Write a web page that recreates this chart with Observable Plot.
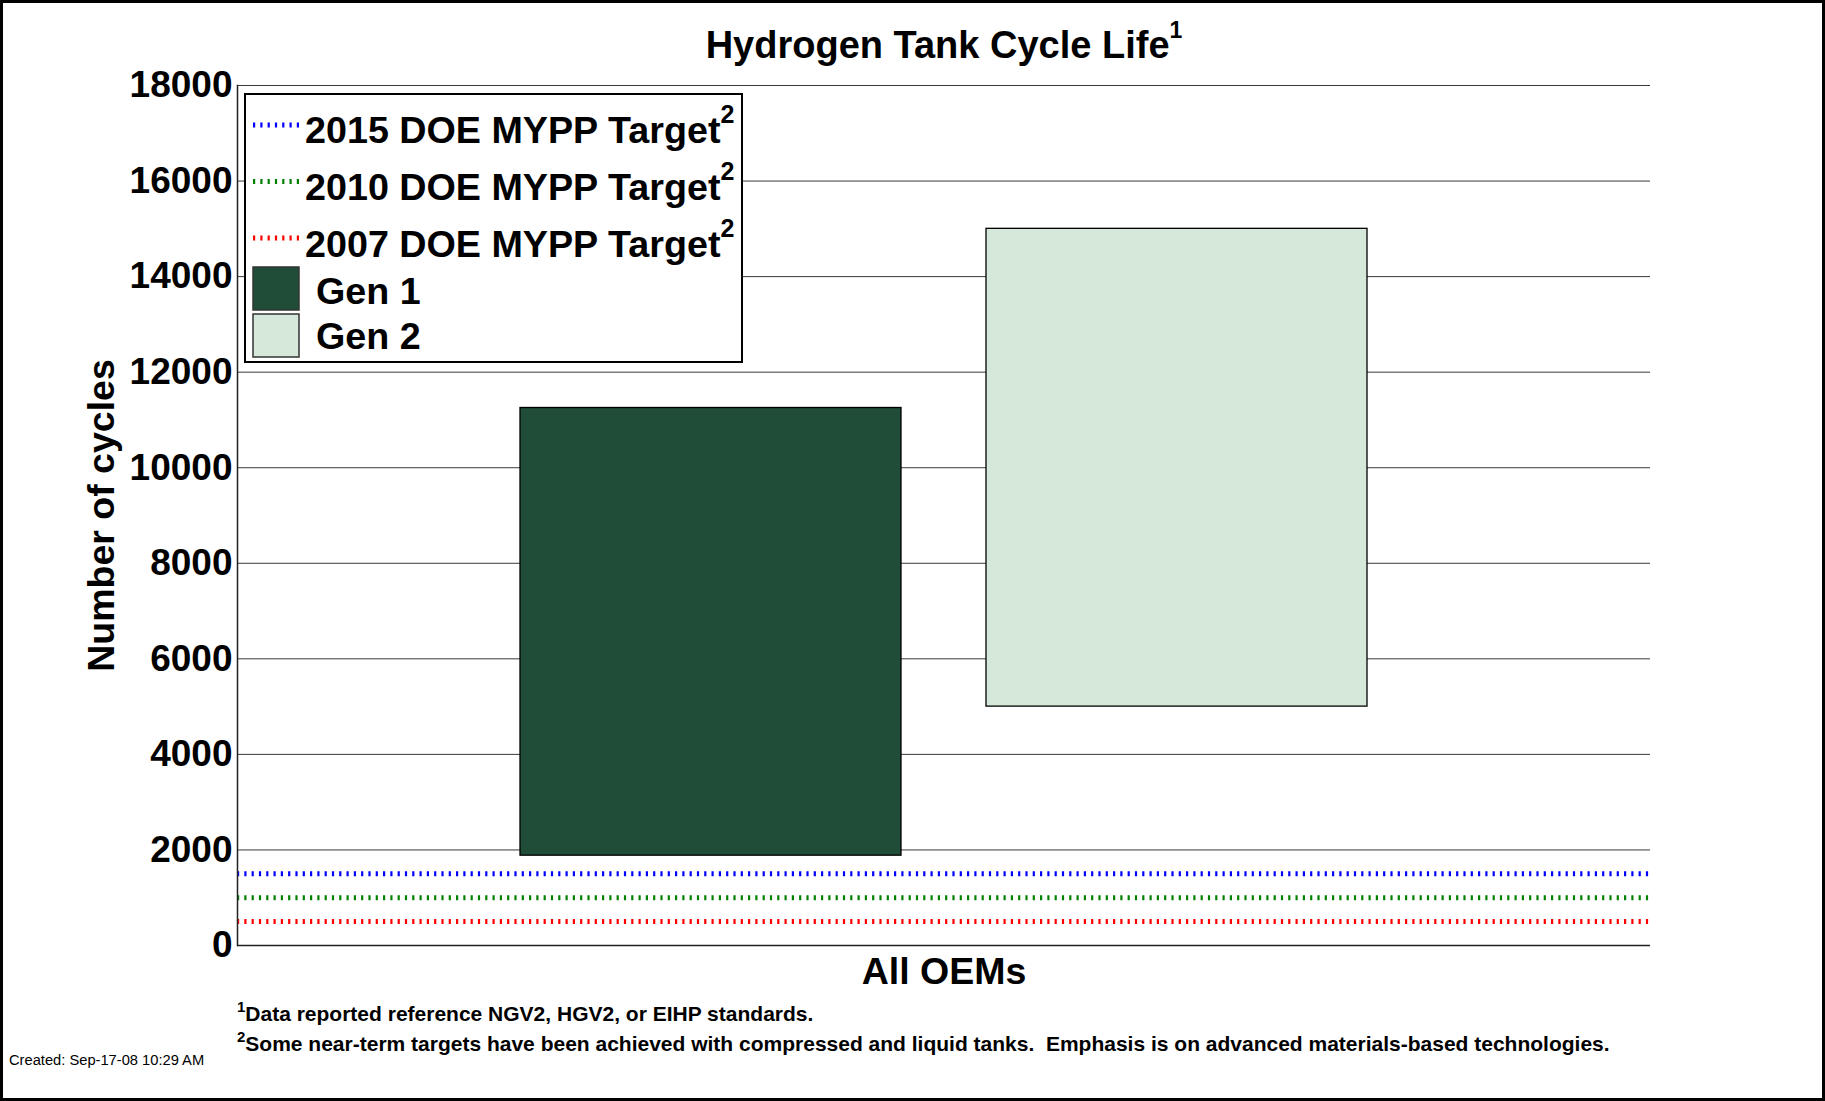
<!DOCTYPE html>
<html><head><meta charset="utf-8">
<script src="https://cdn.jsdelivr.net/npm/d3@7"></script>
<script src="https://cdn.jsdelivr.net/npm/@observablehq/plot@0.6"></script>
<style>
html,body{margin:0;padding:0;background:#fff;}
#page{position:relative;width:1825px;height:1101px;overflow:hidden;font-family:"Liberation Sans",Arial,sans-serif;}
#page > svg{position:absolute;left:0;top:0;}
#frame{position:absolute;left:0;top:0;right:0;bottom:0;border:3px solid #000;box-sizing:border-box;pointer-events:none;}
</style></head><body><div id="page"></div>
<script>
// ---- data ----
const generations = ["Gen 1", "Gen 2"];
const lowCycles = [1880, 5000];
const highCycles = [11250, 15000];
const targetLabels = ["2015 DOE MYPP Target", "2010 DOE MYPP Target", "2007 DOE MYPP Target"];
const targetCycles = [1500, 1000, 500];
const yTicks = [0, 2000, 4000, 6000, 8000, 10000, 12000, 14000, 16000, 18000];
const categoryLabel = "All OEMs";
const yLabel = "Number of cycles";
const titleText = "Hydrogen Tank Cycle Life";
const footnotes = [
  "Data reported reference NGV2, HGV2, or EIHP standards.",
  "Some near-term targets have been achieved with compressed and liquid tanks.  Emphasis is on advanced materials-based technologies."
];
const createdText = "Created: Sep-17-08 10:29 AM";

// ---- styles ----
const seriesColors = ["#0000ff", "#008000", "#ff0000", "#1f4d37", "#d6e8da"];
const FONT = '"Liberation Sans", Arial, sans-serif';

const bars = generations.map((g, i) => ({gen: g, low: lowCycles[i], high: highCycles[i]}));
const targets = targetLabels.map((t, i) => ({label: t, cycles: targetCycles[i]}));

const chart = Plot.plot({
  width: 1825, height: 1101,
  marginLeft: 237, marginRight: 175, marginTop: 85, marginBottom: 156,
  style: {background: "transparent", fontFamily: FONT, color: "#000"},
  x: {domain: generations, paddingInner: 0.182, paddingOuter: 0.604, axis: null},
  y: {domain: [0, 18000], axis: null},
  color: {domain: [...targetLabels, ...generations], range: seriesColors},
  marks: [
    Plot.gridY(yTicks, {stroke: "#3a3a3a", strokeOpacity: 1, strokeWidth: 1}),
    Plot.ruleY(targets, {y: "cycles", stroke: "label", strokeWidth: 5, strokeDasharray: "2.2,5.1"}),
    Plot.barY(bars, {x: "gen", y1: "low", y2: "high", fill: "gen", stroke: "#000", strokeWidth: 1.3}),
    Plot.axisY(yTicks, {tickSize: 0, tickPadding: 5, fontSize: 37, fontWeight: "bold",
      tickFormat: d => String(d), label: null}),
    Plot.axisY({ticks: [], tickSize: 0, fontSize: 37.5, fontWeight: "bold",
      label: yLabel, labelArrow: "none", labelAnchor: "center", labelOffset: 150}),
    Plot.axisX({tickSize: 0, tickFormat: () => "", fontSize: 37.5, fontWeight: "bold",
      label: categoryLabel, labelArrow: "none", labelAnchor: "center", labelOffset: 38}),
    Plot.frame({anchor: "left", stroke: "#222", strokeWidth: 1.5}),
    Plot.ruleY([0], {stroke: "#222", strokeWidth: 1.5})
  ]
});
const page = document.getElementById("page");
page.appendChild(chart);

// ---- annotations: title, legend, footnotes ----
const ann = d3.select(page).append("svg")
  .attr("width", 1825).attr("height", 1101)
  .style("font-family", FONT).style("pointer-events", "none");

const title = ann.append("text").attr("x", 944).attr("y", 58)
  .attr("text-anchor", "middle").attr("font-size", 38).attr("font-weight", "bold");
title.append("tspan").text(titleText);
title.append("tspan").attr("font-size", 23).attr("dy", -20).text("1");

// legend
const lg = ann.append("g").attr("transform", "translate(245,94)");
lg.append("rect").attr("width", 497).attr("height", 268)
  .attr("fill", "#fff").attr("stroke", "#000").attr("stroke-width", 2);
targets.forEach((t, i) => {
  const ly = 31 + i * 56.5;
  lg.append("line").attr("x1", 8).attr("x2", 54).attr("y1", ly).attr("y2", ly)
    .attr("stroke", seriesColors[i]).attr("stroke-width", 5).attr("stroke-dasharray", "2.2,5.1");
  const tx = lg.append("text").attr("x", 60).attr("y", 49 + i * 57)
    .attr("font-size", 37.7).attr("font-weight", "bold");
  tx.append("tspan").text(t.label);
  tx.append("tspan").attr("font-size", 25).attr("dy", -20).text("2");
});
bars.forEach((b, i) => {
  const sy = [173, 220][i];
  lg.append("rect").attr("x", 8).attr("y", sy).attr("width", 46).attr("height", 43)
    .attr("fill", seriesColors[3 + i]).attr("stroke", "#333").attr("stroke-width", 1.5);
  lg.append("text").attr("x", 71).attr("y", [210, 255][i])
    .attr("font-size", 37.7).attr("font-weight", "bold").text(b.gen);
});

// footnotes
footnotes.forEach((f, i) => {
  const tx = ann.append("text").attr("x", 237).attr("y", [1021, 1051][i])
    .attr("font-weight", "bold").style("white-space", "pre");
  tx.append("tspan").attr("font-size", 15).attr("dy", -9).text(String(i + 1));
  tx.append("tspan").attr("font-size", 21).attr("dy", 9).text(f);
});
ann.append("text").attr("x", 9).attr("y", 1065).attr("font-size", 14.7).text(createdText);

const frame = document.createElement("div");
frame.id = "frame";
page.appendChild(frame);
</script>
</body></html>
